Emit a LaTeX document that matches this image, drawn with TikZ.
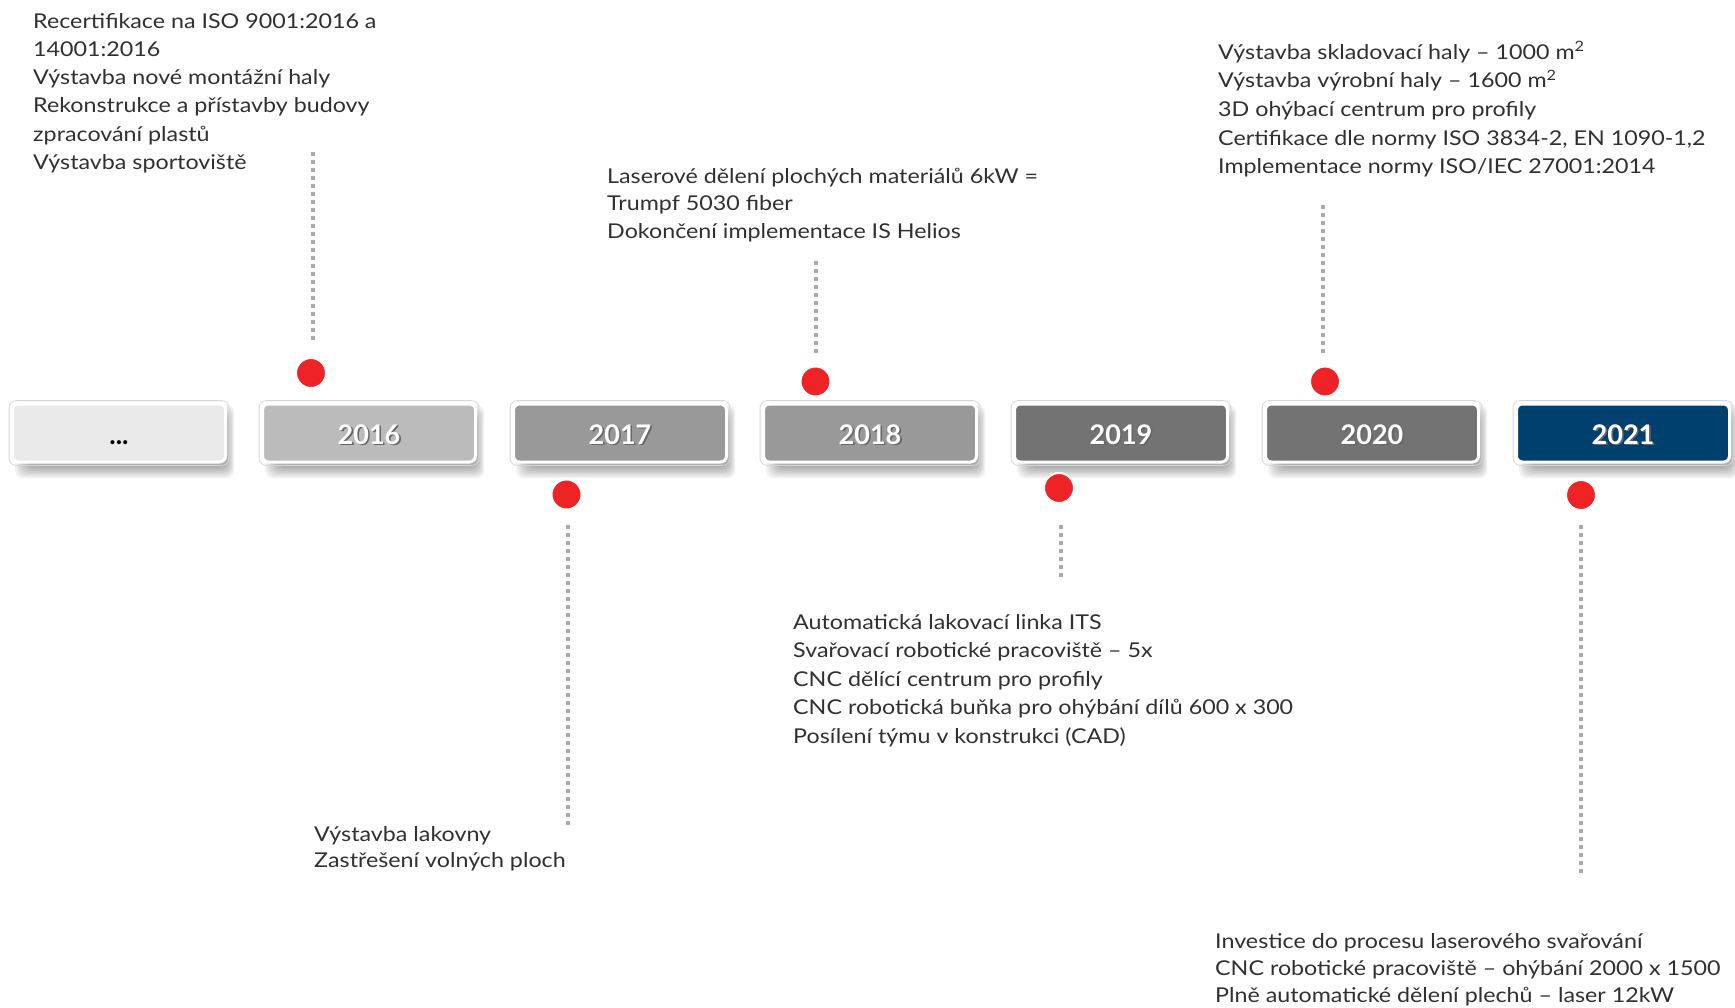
\documentclass[tikz,border=0pt]{standalone}
\usepackage{fontspec}
\setmainfont{Lato}[FakeStretch=1.14]
\newfontfamily\yrfont{Lato}
\definecolor{txt}{HTML}{303030}
\definecolor{dotred}{HTML}{EE2326}
\definecolor{linegray}{HTML}{ABABAB}
\definecolor{cA}{HTML}{EAEAEA}
\definecolor{cB}{HTML}{BBBBBB}
\definecolor{cC}{HTML}{999999}
\definecolor{cD}{HTML}{737373}
\definecolor{cE}{HTML}{00406F}
\definecolor{rimgray}{HTML}{D6D6D6}
\pgfdeclarelayer{bg}
\pgfsetlayers{bg,main}
\newcommand\yrtext[1]{\makebox[0pt][l]{\kern1.6pt\raisebox{-1.6pt}{\textcolor{black!60}{#1}}}#1}
\newcommand\boxshade[1]{%
  \begin{pgfonlayer}{bg}
  \foreach \r in {0,2,...,12}{
    \fill[black,opacity=0.05,rounded corners=8pt]
      ([shift={(16-\r,14-\r)}]#1.north west) rectangle ([shift={(0.6*\r,4+0.9*\r)}]#1.south east);
  }
  \end{pgfonlayer}
  \draw[rimgray,line width=0.8pt,rounded corners=7pt]
    ([shift={(-1.9,-1.9)}]#1.north west) rectangle ([shift={(1.9,1.9)}]#1.south east);
}
\tikzset{
  yearbox/.style={rectangle, rounded corners=6pt, draw=white, line width=3pt,
    minimum width=213pt, minimum height=58pt, inner sep=0pt, text=white,
    text height=22pt, text depth=0pt,
    font=\yrfont\fontsize{27}{30}\selectfont\bfseries},
  dot/.style={circle, fill=dotred, draw=white, line width=2pt, minimum size=30pt, inner sep=0pt},
  dotline/.style={draw=linegray, line width=4pt, dash pattern=on 4pt off 4pt},
  info/.style={anchor=base west, inner sep=0pt, text=txt},
  fs/.style={font=\fontsize{20.4}{#1}\selectfont}
}
\begin{document}
\begin{tikzpicture}[x=1pt,y=-1pt]
\useasboundingbox (0,0) rectangle (1735,1007);
\begin{pgfonlayer}{bg}
\fill[white] (0,0) rectangle (1735,1007);
\end{pgfonlayer}

% year boxes
\node[yearbox, fill=cA, text=black] (y0) at (119,433) {...};
\node[yearbox, fill=cB] (y16) at (369,433) {\yrtext{2016}};
\node[yearbox, fill=cC] (y17) at (620,433) {\yrtext{2017}};
\node[yearbox, fill=cC] (y18) at (870,433) {\yrtext{2018}};
\node[yearbox, fill=cD] (y19) at (1121,433) {\yrtext{2019}};
\node[yearbox, fill=cD] (y20) at (1372,433) {\yrtext{2020}};
\node[yearbox, fill=cE] (y21) at (1623,433) {\yrtext{2021}};
\boxshade{y0}\boxshade{y16}\boxshade{y17}\boxshade{y18}\boxshade{y19}\boxshade{y20}\boxshade{y21}

% red dots
\node[dot] (p16) at (311,373) {};
\node[dot] (p17) at (566.5,494.5) {};
\node[dot] (p18) at (815.5,381.5) {};
\node[dot] (p19) at (1059,488) {};
\node[dot] (p20) at (1325,381.5) {};
\node[dot] (p21) at (1581,495) {};

% dotted leaders
\coordinate (a16) at (313,152);  \coordinate (b16) at (313,341);
\coordinate (a17) at (567.5,525); \coordinate (b17) at (567.5,825);
\coordinate (a18) at (815.5,261); \coordinate (b18) at (815.5,353);
\coordinate (a19) at (1061,525); \coordinate (b19) at (1061,577);
\coordinate (a20) at (1323,205); \coordinate (b20) at (1323,353);
\coordinate (a21) at (1581,525); \coordinate (b21) at (1581,877);
\draw[dotline] (a16) -- (b16);
\draw[dotline] (a17) -- (b17);
\draw[dotline] (a18) -- (b18);
\draw[dotline] (a19) -- (b19);
\draw[dotline] (a20) -- (b20);
\draw[dotline] (a21) -- (b21);

% texts
\node[info, fs=28.3] (t16) at (33,28) {\begin{tabular}[t]{@{}l@{}}
Recertifikace na ISO 9001:2016 a\\
14001:2016\\
Výstavba nové montážní haly\\
Rekonstrukce a přístavby budovy\\
zpracování plastů\\
Výstavba sportoviště\end{tabular}};
\node[info, fs=27.6] (t18) at (607,183) {\begin{tabular}[t]{@{}l@{}}
Laserové dělení plochých materiálů 6kW =\\
Trumpf 5030 fiber\\
Dokončení implementace IS Helios\end{tabular}};
\node[info, fs=28.7] (t20) at (1218,59) {\begin{tabular}[t]{@{}l@{}}
Výstavba skladovací haly -- 1000 m\textsuperscript{2}\\
Výstavba výrobní haly -- 1600 m\textsuperscript{2}\\
3D ohýbací centrum pro profily\\
Certifikace dle normy ISO 3834-2, EN 1090-1,2\\
Implementace normy ISO/IEC 27001:2014\end{tabular}};
\node[info, fs=26.5] (t17) at (314,841) {\begin{tabular}[t]{@{}l@{}}
Výstavba lakovny\\
Zastřešení volných ploch\end{tabular}};
\node[info, fs=28.5] (t19) at (793,629) {\begin{tabular}[t]{@{}l@{}}
Automatická lakovací linka ITS\\
Svařovací robotické pracoviště -- 5x\\
CNC dělící centrum pro profily\\
CNC robotická buňka pro ohýbání dílů 600 x 300\\
Posílení týmu v konstrukci (CAD)\end{tabular}};
\node[info, fs=27] (t21) at (1215,948) {\begin{tabular}[t]{@{}l@{}}
Investice do procesu laserového svařování\\
CNC robotické pracoviště -- ohýbání 2000 x 1500\\
Plně automatické dělení plechů -- laser 12kW\end{tabular}};
\end{tikzpicture}
\end{document}
